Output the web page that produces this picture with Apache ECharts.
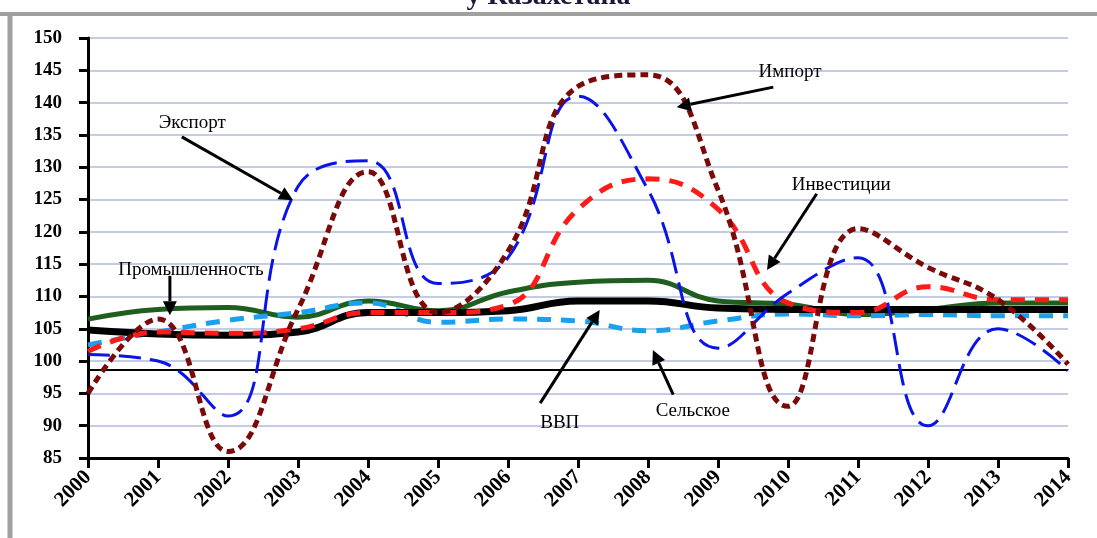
<!DOCTYPE html>
<html><head><meta charset="utf-8">
<script src="https://cdn.jsdelivr.net/npm/echarts@6/dist/echarts.min.js"></script>
<style>html,body{margin:0;padding:0;background:#fff}#c{width:1097px;height:538px}</style>
</head><body><div id="c"></div>
<script>
const years = ['2000','2001','2002','2003','2004','2005','2006','2007','2008','2009','2010','2011','2012','2013','2014'];
const exportVals     = [101, 100, 91.5, 127, 131, 112, 116, 141, 126.5, 102, 110.5, 116, 90, 105, 98.5];
const importVals     = [95, 106.5, 86, 108, 129.3, 107.5, 117, 142.5, 144.3, 126.5, 93, 120.5, 114.5, 109.5, 99.5];
const investVals     = [101.5, 104.5, 104.3, 105, 107.5, 107.5, 108.7, 123.5, 128.2, 123.5, 109, 107.5, 111.5, 109.5, 109.5];
const industryVals   = [106.5, 108, 108.3, 106.8, 109.3, 107.8, 110.7, 112.2, 112.5, 109.3, 108.8, 107.2, 108, 109, 109];
const gdpVals        = [104.8, 104.2, 104, 104.5, 107.5, 107.5, 107.8, 109.3, 109.3, 108.2, 108, 108, 108, 108, 108];
const agriVals       = [102.5, 104.5, 106.3, 107.5, 109, 106, 106.5, 106.2, 104.7, 106.2, 107.3, 107, 107.2, 107, 107];
const refLineValue   = 98.7;
const titleText      = 'у Казахстана';

// annotations: text, label position [xIndex, value], arrow from, arrow to
const annTexts = ['Экспорт', 'Промышленность', 'Импорт', 'Инвестиции', 'ВВП', 'Сельское'];
const annLabelAt = [[1.49, 136.9], [1.47, 114.1], [10.03, 144.8], [10.76, 127.3], [6.74, 90.4], [8.64, 92.3]];
const annFrom = [[1.34, 134.7], [1.17, 113.2], [9.79, 142.4], [10.41, 125.9], [6.46, 93.5], [8.36, 94.8]];
const annTo   = [[2.93, 124.9], [1.17, 107.1], [8.41, 139.3], [9.70, 114.1], [7.31, 107.9], [8.07, 101.7]];

const serif = '"Liberation Serif", "DejaVu Serif", serif';
function line(name, data, color, width, type, z) {
  return { name, type: 'line', data, smooth: 0.45, symbol: 'none', z,
    lineStyle: { color, width, type, cap: 'butt' } };
}
const chart = echarts.init(document.getElementById('c'));
chart.setOption({
  animation: false,
  backgroundColor: '#fff',
  title: { text: titleText, left: 'center', top: -22,
    textStyle: { fontFamily: serif, fontWeight: 'bold', fontSize: 28, color: '#1a1a3a' } },
  grid: { left: 88, right: 29, top: 38, bottom: 80 },
  xAxis: {
    type: 'category', data: years, boundaryGap: false,
    axisLine: { lineStyle: { color: '#000', width: 3 } },
    axisTick: { length: 10, lineStyle: { color: '#000', width: 3 } },
    axisLabel: { rotate: 45, fontFamily: serif, fontWeight: 'bold', fontSize: 21, color: '#000', margin: 16 },
    splitLine: { show: false }
  },
  yAxis: {
    type: 'value', min: 85, max: 150, interval: 5,
    axisLine: { show: true, lineStyle: { color: '#000', width: 3 } },
    axisTick: { show: true, length: 9, lineStyle: { color: '#000', width: 3 } },
    axisLabel: { fontFamily: serif, fontWeight: 'bold', fontSize: 19, color: '#000', margin: 26 },
    splitLine: { lineStyle: { color: '#c3cde2', width: 2 } }
  },
  series: [
    Object.assign(line('Промышленность', industryVals, '#1e5e1e', 5, 'solid', 2), {
      markLine: { silent: true, symbol: 'none', label: { show: false },
        lineStyle: { color: '#000', width: 2, type: 'solid' }, data: [{ yAxis: refLineValue }] } }),
    line('Сельское', agriVals, '#1ba0ee', 5, [14, 10], 3),
    line('ВВП', gdpVals, '#000000', 7, 'solid', 4),
    line('Инвестиции', investVals, '#ff1a1a', 5, [14, 10], 5),
    line('Экспорт', exportVals, '#0a14e8', 3, [22, 9], 6),
    line('Импорт', importVals, '#7a0a0a', 5, [8, 5], 7)
  ]
});

function px(p) {
  const i0 = Math.floor(p[0]);
  const i1 = Math.min(i0 + 1, years.length - 1);
  const a = chart.convertToPixel({ gridIndex: 0 }, [i0, p[1]]);
  const b = chart.convertToPixel({ gridIndex: 0 }, [i1, p[1]]);
  const f = p[0] - i0;
  return [a[0] + (b[0] - a[0]) * f, a[1]];
}
const graphics = [
  { type: 'line', shape: { x1: 0, y1: 14, x2: 1097, y2: 14 }, style: { stroke: '#a0a0a0', lineWidth: 4 }, z: 100 },
  { type: 'line', shape: { x1: 10, y1: 12, x2: 10, y2: 538 }, style: { stroke: '#a0a0a0', lineWidth: 5 }, z: 100 }
];
for (let i = 0; i < annTexts.length; i++) {
  const t = px(annLabelAt[i]);
  const a = px(annFrom[i]);
  const b = px(annTo[i]);
  graphics.push({ type: 'text', x: t[0], y: t[1], z: 100,
    style: { text: annTexts[i], font: '19px ' + serif, fill: '#000', align: 'center', verticalAlign: 'middle' } });
  const dx = b[0] - a[0], dy = b[1] - a[1];
  const len = Math.sqrt(dx * dx + dy * dy);
  const ux = dx / len, uy = dy / len;
  const hl = 14, hw = 7;
  const bx = b[0] - ux * hl, by = b[1] - uy * hl;
  graphics.push({ type: 'line', z: 100, shape: { x1: a[0], y1: a[1], x2: bx, y2: by },
    style: { stroke: '#000', lineWidth: 3 } });
  graphics.push({ type: 'polygon', z: 100,
    shape: { points: [[b[0], b[1]], [bx - uy * hw, by + ux * hw], [bx + uy * hw, by - ux * hw]] },
    style: { fill: '#000' } });
}
chart.setOption({ graphic: graphics });
</script>
</body></html>
